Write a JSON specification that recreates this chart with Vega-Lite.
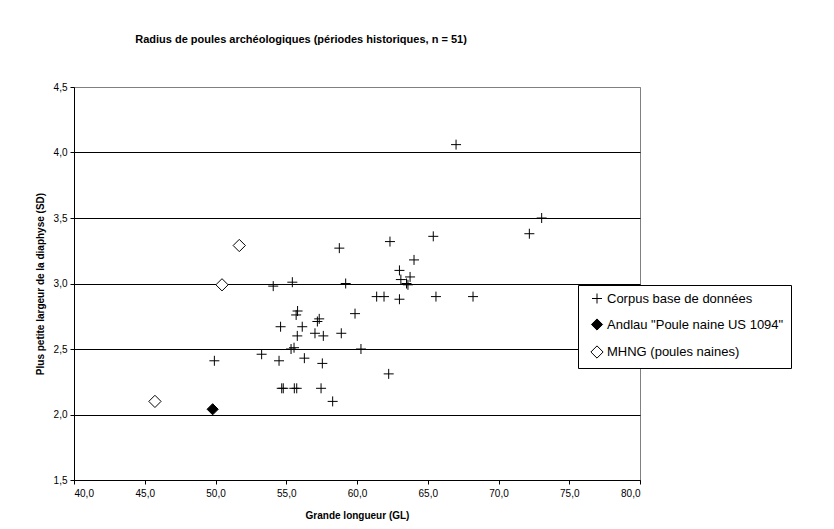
{
  "$schema": "https://vega.github.io/schema/vega-lite/v6.json",
  "width": 566,
  "height": 393,
  "autosize": {"type": "none"},
  "padding": {"left": 74, "top": 87, "right": 194, "bottom": 49},
  "background": "white",
  "title": {
    "text": "Radius de poules archéologiques (périodes historiques, n = 51)",
    "font": "Liberation Sans",
    "fontSize": 11,
    "fontWeight": "bold",
    "color": "black",
    "anchor": "middle",
    "dx": -56,
    "offset": 37
  },
  "data": {
    "values": [
      {"gl": 67.0, "sd": 4.06, "serie": "Corpus base de données"},
      {"gl": 73.05, "sd": 3.50, "serie": "Corpus base de données"},
      {"gl": 72.18, "sd": 3.38, "serie": "Corpus base de données"},
      {"gl": 68.2, "sd": 2.90, "serie": "Corpus base de données"},
      {"gl": 58.75, "sd": 3.27, "serie": "Corpus base de données"},
      {"gl": 62.33, "sd": 3.32, "serie": "Corpus base de données"},
      {"gl": 65.39, "sd": 3.36, "serie": "Corpus base de données"},
      {"gl": 64.03, "sd": 3.18, "serie": "Corpus base de données"},
      {"gl": 63.0, "sd": 3.10, "serie": "Corpus base de données"},
      {"gl": 63.75, "sd": 3.05, "serie": "Corpus base de données"},
      {"gl": 63.1, "sd": 3.03, "serie": "Corpus base de données"},
      {"gl": 63.5, "sd": 3.00, "serie": "Corpus base de données"},
      {"gl": 63.6, "sd": 2.99, "serie": "Corpus base de données"},
      {"gl": 54.08, "sd": 2.98, "serie": "Corpus base de données"},
      {"gl": 55.43, "sd": 3.01, "serie": "Corpus base de données"},
      {"gl": 59.2, "sd": 3.00, "serie": "Corpus base de données"},
      {"gl": 61.39, "sd": 2.90, "serie": "Corpus base de données"},
      {"gl": 61.91, "sd": 2.90, "serie": "Corpus base de données"},
      {"gl": 63.0, "sd": 2.88, "serie": "Corpus base de données"},
      {"gl": 65.58, "sd": 2.90, "serie": "Corpus base de données"},
      {"gl": 55.8, "sd": 2.79, "serie": "Corpus base de données"},
      {"gl": 55.7, "sd": 2.76, "serie": "Corpus base de données"},
      {"gl": 57.33, "sd": 2.73, "serie": "Corpus base de données"},
      {"gl": 57.2, "sd": 2.71, "serie": "Corpus base de données"},
      {"gl": 59.86, "sd": 2.77, "serie": "Corpus base de données"},
      {"gl": 54.6, "sd": 2.67, "serie": "Corpus base de données"},
      {"gl": 56.13, "sd": 2.67, "serie": "Corpus base de données"},
      {"gl": 55.78, "sd": 2.60, "serie": "Corpus base de données"},
      {"gl": 57.03, "sd": 2.62, "serie": "Corpus base de données"},
      {"gl": 57.62, "sd": 2.60, "serie": "Corpus base de données"},
      {"gl": 58.89, "sd": 2.62, "serie": "Corpus base de données"},
      {"gl": 55.34, "sd": 2.50, "serie": "Corpus base de données"},
      {"gl": 55.55, "sd": 2.51, "serie": "Corpus base de données"},
      {"gl": 60.28, "sd": 2.50, "serie": "Corpus base de données"},
      {"gl": 49.92, "sd": 2.41, "serie": "Corpus base de données"},
      {"gl": 53.26, "sd": 2.46, "serie": "Corpus base de données"},
      {"gl": 54.49, "sd": 2.41, "serie": "Corpus base de données"},
      {"gl": 56.28, "sd": 2.43, "serie": "Corpus base de données"},
      {"gl": 57.55, "sd": 2.39, "serie": "Corpus base de données"},
      {"gl": 62.24, "sd": 2.31, "serie": "Corpus base de données"},
      {"gl": 54.68, "sd": 2.20, "serie": "Corpus base de données"},
      {"gl": 54.79, "sd": 2.20, "serie": "Corpus base de données"},
      {"gl": 55.57, "sd": 2.20, "serie": "Corpus base de données"},
      {"gl": 55.74, "sd": 2.20, "serie": "Corpus base de données"},
      {"gl": 57.46, "sd": 2.20, "serie": "Corpus base de données"},
      {"gl": 58.28, "sd": 2.10, "serie": "Corpus base de données"},
      {"gl": 49.8, "sd": 2.04, "serie": "Andlau \"Poule naine US 1094\""},
      {"gl": 51.68, "sd": 3.29, "serie": "MHNG (poules naines)"},
      {"gl": 50.46, "sd": 2.99, "serie": "MHNG (poules naines)"},
      {"gl": 45.72, "sd": 2.10, "serie": "MHNG (poules naines)"}
    ]
  },
  "mark": {"type": "point", "filled": true, "strokeWidth": 1, "opacity": 1},
  "encoding": {
    "x": {
      "field": "gl",
      "type": "quantitative",
      "scale": {"domain": [40, 80], "nice": false, "zero": false},
      "axis": {
        "title": "Grande longueur (GL)",
        "values": [40, 45, 50, 55, 60, 65, 70, 75, 80],
        "labelExpr": "replace(format(datum.value, '.1f'), '.', ',')",
        "grid": false,
        "tickSize": 4,
        "labelPadding": 4,
        "titlePadding": 12
      }
    },
    "y": {
      "field": "sd",
      "type": "quantitative",
      "scale": {"domain": [1.5, 4.5], "nice": false, "zero": false},
      "axis": {
        "title": "Plus petite largeur de la diaphyse (SD)",
        "values": [1.5, 2, 2.5, 3, 3.5, 4, 4.5],
        "labelExpr": "replace(format(datum.value, '.1f'), '.', ',')",
        "grid": true,
        "gridColor": {"condition": {"test": "datum.value == 4.5", "value": "#808080"}, "value": "black"},
        "tickSize": 4,
        "labelPadding": 3,
        "titlePadding": 8
      }
    },
    "shape": {
      "field": "serie",
      "type": "nominal",
      "scale": {
        "domain": ["Corpus base de données", "Andlau \"Poule naine US 1094\"", "MHNG (poules naines)"],
        "range": ["M-1,0H1M0,-1V1", "diamond", "diamond"]
      },
      "legend": {"title": null, "orient": "none", "legendX": 504, "legendY": 198, "labelLimit": 300}
    },
    "fill": {
      "field": "serie",
      "type": "nominal",
      "scale": {
        "domain": ["Corpus base de données", "Andlau \"Poule naine US 1094\"", "MHNG (poules naines)"],
        "range": ["white", "black", "white"]
      },
      "legend": {"title": null, "orient": "none", "legendX": 504, "legendY": 198, "labelLimit": 300}
    },
    "stroke": {
      "field": "serie",
      "type": "nominal",
      "scale": {
        "domain": ["Corpus base de données", "Andlau \"Poule naine US 1094\"", "MHNG (poules naines)"],
        "range": ["black", "black", "black"]
      },
      "legend": {"title": null, "orient": "none", "legendX": 504, "legendY": 198, "labelLimit": 300}
    },
    "size": {
      "field": "serie",
      "type": "nominal",
      "scale": {
        "domain": ["Corpus base de données", "Andlau \"Poule naine US 1094\"", "MHNG (poules naines)"],
        "range": [100, 150, 72]
      },
      "legend": {"title": null, "orient": "none", "legendX": 504, "legendY": 198, "labelLimit": 300}
    }
  },
  "config": {
    "font": "Liberation Sans",
    "view": {"stroke": "#808080", "strokeWidth": 1},
    "axis": {
      "labelFont": "Liberation Sans",
      "labelFontSize": 10,
      "labelColor": "black",
      "titleFont": "Liberation Sans",
      "titleFontSize": 10,
      "titleFontWeight": "bold",
      "titleColor": "black",
      "domainColor": "black",
      "domainWidth": 1,
      "tickColor": "black",
      "tickWidth": 1,
      "gridWidth": 1
    },
    "legend": {
      "labelFont": "Liberation Sans",
      "labelFontSize": 13,
      "labelColor": "black",
      "labelLimit": 300,
      "strokeColor": "black",
      "fillColor": "white",
      "padding": 7,
      "rowPadding": 10,
      "symbolStrokeWidth": 1,
      "symbolOffset": 5,
      "labelOffset": 3
    }
  }
}
